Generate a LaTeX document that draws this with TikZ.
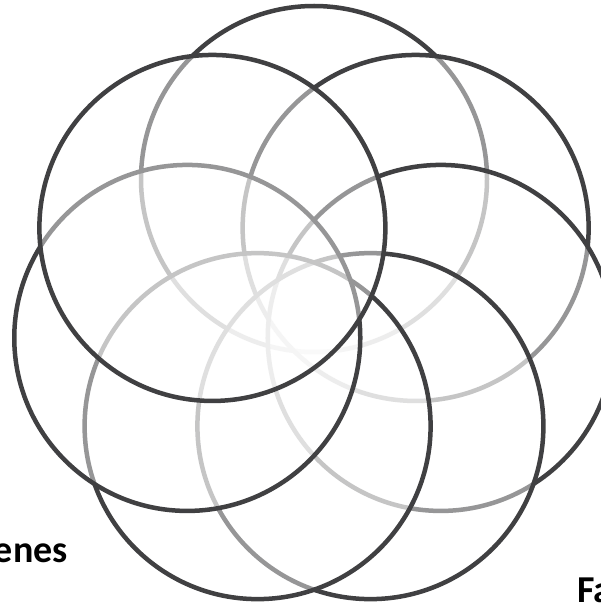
\documentclass[tikz,border=0pt]{standalone}
\usepackage{fontspec}
\setmainfont{Carlito}
\usetikzlibrary{calc}
\definecolor{ringgray}{RGB}{64,64,66}
\begin{document}
\begin{tikzpicture}[x=1pt,y=-1pt,
  ring/.style={circle, draw=ringgray, line width=4.5pt, fill=white, fill opacity=0.45,
    minimum size=346pt, inner sep=0pt, outer sep=0pt},
  lbl/.style={font=\fontsize{38}{40}\selectfont\bfseries, inner sep=0pt, text=black}]
\useasboundingbox (0,0) rectangle (600,604);
\coordinate (ctr) at (314,309);
\foreach \k/\n in {0/top,1/topright,2/right,3/botright,4/botleft,5/left,6/topleft}{
  \node[ring] (\n) at ($(ctr)+({270+\k*360/7}:130)$) {};
}
\node[lbl, anchor=base east] (genes) at (68,562) {enes};
\node[lbl, anchor=base west] (fa) at (577,602) {Fa};
\end{tikzpicture}
\end{document}
